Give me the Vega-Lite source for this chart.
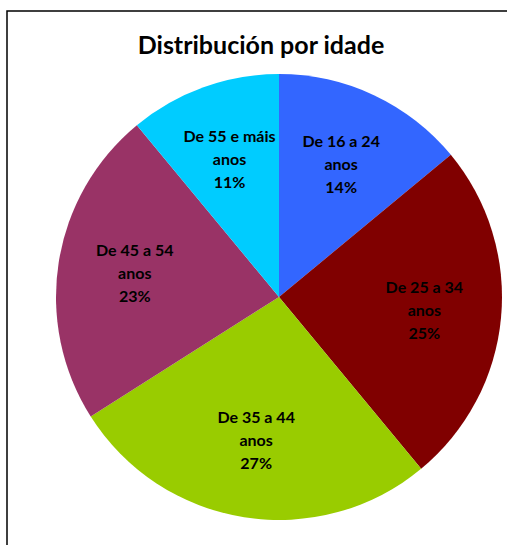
{
  "$schema": "https://vega.github.io/schema/vega-lite/v6.json",
  "width": 544,
  "height": 572,
  "autosize": {"type": "none"},
  "padding": {"left": 7, "top": 11, "right": 0, "bottom": 0},
  "background": "white",
  "view": {"stroke": "black", "strokeWidth": 1.5},
  "config": {"view": {"stroke": "black", "strokeWidth": 1.5}, "style": {"view": {"stroke": "black", "strokeWidth": 1.5}}},
  "title": {
    "text": "Distribución por idade",
    "font": "Lato",
    "fontSize": 25,
    "fontWeight": "bold",
    "color": "black",
    "anchor": "middle",
    "baseline": "alphabetic",
    "offset": -44,
    "dy": 24,
    "dx": -18
  },
  "data": {
    "values": [
      {"i": 1, "group": "De 16 a 24 anos", "pct": 14, "label": "De 16 a 24\nanos\n14%"},
      {"i": 2, "group": "De 25 a 34 anos", "pct": 25, "label": "De 25 a 34\nanos\n25%"},
      {"i": 3, "group": "De 35 a 44 anos", "pct": 27, "label": "De 35 a 44\nanos\n27%"},
      {"i": 4, "group": "De 45 a 54 anos", "pct": 23, "label": "De 45 a 54\nanos\n23%"},
      {"i": 5, "group": "De 55 e máis anos", "pct": 11, "label": "De 55 e máis\nanos\n11%"}
    ]
  },
  "encoding": {
    "theta": {"field": "pct", "type": "quantitative", "stack": true},
    "order": {"field": "i", "type": "quantitative"}
  },
  "layer": [
    {
      "mark": {"type": "arc", "outerRadius": 223},
      "encoding": {
        "color": {
          "field": "group",
          "type": "nominal",
          "scale": {
            "domain": ["De 16 a 24 anos", "De 25 a 34 anos", "De 35 a 44 anos", "De 45 a 54 anos", "De 55 e máis anos"],
            "range": ["#3366FF", "#800000", "#99CC00", "#993366", "#00CCFF"]
          },
          "legend": null
        }
      }
    },
    {
      "mark": {
        "type": "text",
        "radius": 146,
        "font": "Lato",
        "fontSize": 16,
        "fontWeight": "bold",
        "lineBreak": "\n",
        "lineHeight": 23,
        "baseline": "middle",
        "dy": -23,
        "color": "black"
      },
      "encoding": {"text": {"field": "label", "type": "nominal"}}
    }
  ]
}
